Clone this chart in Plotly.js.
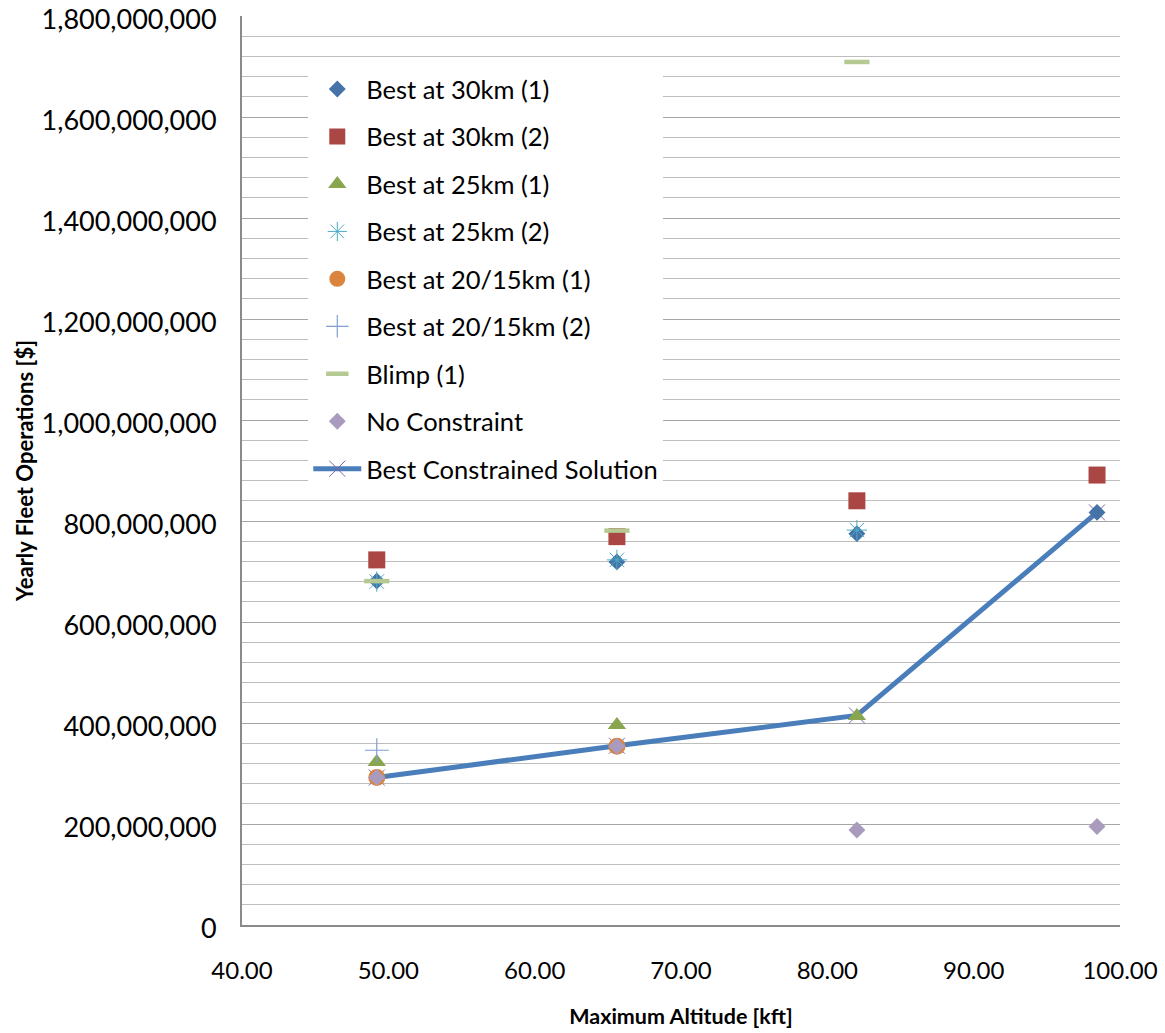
<!DOCTYPE html>
<html>
<head>
<meta charset="utf-8">
<script src="https://cdn.plot.ly/plotly-3.0.1.min.js"></script>
<style>html,body{margin:0;padding:0;background:#fff;}#chart{width:1165px;height:1033px;}</style>
</head>
<body>
<div id="chart"></div>
<script>
// Maximum altitude [kft] (15, 20, 25, 30 km)
const altitudes = [49.21, 65.62, 82.02, 98.43];

// Yearly fleet operations [$]
const best30km1 = [681e6, 719e6, 775e6, 817e6];
const best30km2 = [723e6, 769e6, 840e6, 891e6];
const best25km1 = [323e6, 396e6, 414e6];
const best25km2 = [680e6, 723e6, 782e6];
const best2015km1 = [292e6, 354e6];
const best2015km2 = [346e6];
const blimp1 = [681e6, 781e6, 1709e6];
const noConstraint = [292e6, 354e6, 188e6, 195e6];
const bestConstrained = [292e6, 355e6, 415e6, 817e6];

const yTickVals = [0, 200e6, 400e6, 600e6, 800e6, 1000e6, 1200e6, 1400e6, 1600e6, 1800e6];
const xTickVals = [40, 50, 60, 70, 80, 90, 100];

const FONT = 'Lato, "Open Sans", sans-serif';

function xs(arr) { return altitudes.slice(0, arr.length); }

const traces = [
  {
    name: 'Best Constrained Solution', x: xs(bestConstrained), y: bestConstrained,
    mode: 'lines+markers', legendgroup: 'g9', legendrank: 9,
    line: {color: '#4a7ebb', width: 5},
    marker: {symbol: 'x-thin-open', size: 16, color: '#8064a2', line: {color: '#8064a2', width: 1}}
  },
  {
    name: 'Best at 30km (1)', x: xs(best30km1), y: best30km1, mode: 'markers',
    legendgroup: 'g1', legendrank: 1,
    marker: {symbol: 'diamond', size: 13, color: '#4572a7'}
  },
  {
    name: 'Best at 30km (2)', x: xs(best30km2), y: best30km2, mode: 'markers',
    legendgroup: 'g2', legendrank: 2,
    marker: {symbol: 'square', size: 17, color: '#aa4643'}
  },
  {
    name: 'Best at 25km (1)', x: xs(best25km1), y: best25km1, mode: 'markers',
    legendgroup: 'g3', legendrank: 3,
    marker: {symbol: 'triangle-up', size: 16, color: '#89a54e'}
  },
  {
    name: 'Best at 25km (2)', x: xs(best25km2), y: best25km2, mode: 'markers',
    legendgroup: 'g4', legendrank: 4,
    marker: {symbol: 'asterisk-open', size: 17, color: '#4bacc6', line: {color: '#4bacc6', width: 1}}
  },
  {
    name: 'Best at 20/15km (1)', x: xs(best2015km1), y: best2015km1, mode: 'markers',
    legendgroup: 'g5', legendrank: 5,
    marker: {symbol: 'circle', size: 17, color: '#db843d'}
  },
  {
    name: 'Best at 20/15km (2)', x: xs(best2015km2), y: best2015km2, mode: 'markers',
    legendgroup: 'g6', legendrank: 6,
    marker: {symbol: 'cross-thin-open', size: 17, color: '#7f9fd0', line: {color: '#7f9fd0', width: 1.2}}
  },
  {
    name: 'Blimp (1)', x: xs(blimp1), y: blimp1, mode: 'markers',
    legendgroup: 'g7', legendrank: 7,
    marker: {symbol: 'line-ew-open', size: 18, color: '#b5ca92', line: {color: '#b5ca92', width: 4.5}}
  },
  {
    name: 'No Constraint', x: xs(noConstraint), y: noConstraint, mode: 'markers',
    legendgroup: 'g8', legendrank: 8,
    marker: {symbol: 'diamond', size: 13, color: '#a99bbd'}
  }
];

const layout = {
  width: 1165, height: 1033,
  margin: {l: 242, r: 45, t: 16, b: 108},
  paper_bgcolor: '#ffffff', plot_bgcolor: '#ffffff',
  font: {family: FONT, color: '#000000'},
  showlegend: true,
  legend: {
    x: 0.0755, y: 0.945, xanchor: 'left', yanchor: 'top',
    bgcolor: '#ffffff', borderwidth: 0,
    font: {family: FONT, size: 25.5, color: '#000000'},
    itemwidth: 48, tracegroupgap: 11.3, traceorder: 'grouped'
  },
  xaxis: {
    range: [40, 100], tickvals: xTickVals, tickformat: '.2f',
    showgrid: false, zeroline: false,
    showline: true, linecolor: '#8a8a8a', linewidth: 2,
    ticks: 'outside', ticklen: 23, tickcolor: 'rgba(0,0,0,0)',
    tickfont: {family: FONT, size: 24, color: '#000000'},
    ticklabeloverflow: 'allow',
    title: {text: '<b>Maximum Altitude [kft]</b>', font: {family: FONT, size: 21.5, color: '#000000'}, standoff: 26}
  },
  yaxis: {
    range: [0, 1800e6], tickvals: yTickVals, tickformat: ',d',
    showgrid: true, gridcolor: '#a6a6a6', gridwidth: 1,
    minor: {dtick: 40e6, showgrid: true, gridcolor: '#bdbdbd', gridwidth: 1, ticks: ''},
    zeroline: false,
    showline: true, linecolor: '#8a8a8a', linewidth: 2,
    ticks: 'outside', ticklen: 18, tickcolor: 'rgba(0,0,0,0)',
    tickfont: {family: FONT, size: 27, color: '#000000'},
    ticklabeloverflow: 'allow', ticklabelshift: 4,
    title: {text: '<b>Yearly Fleet Operations [$]</b>', font: {family: FONT, size: 22, color: '#000000'}, standoff: 2}
  },
  xaxis2: {overlaying: 'x', side: 'top', range: [40, 100], showline: true, linecolor: '#b0b0b0', linewidth: 2,
    showticklabels: false, showgrid: false, zeroline: false, ticks: ''}
};

Plotly.newPlot('chart', traces, layout, {displayModeBar: false, staticPlot: true});
</script>
</body>
</html>
